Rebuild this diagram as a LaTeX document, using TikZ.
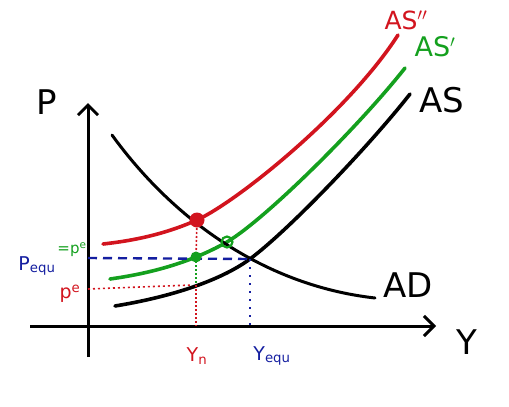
\documentclass[tikz,border=0pt]{standalone}
\usepackage{fontspec}
\setmainfont{DejaVu Sans}
\usetikzlibrary{arrows.meta}
\definecolor{cred}{RGB}{210,20,30}
\definecolor{cgreen}{RGB}{20,160,30}
\definecolor{cblue}{RGB}{20,30,160}
\begin{document}
\begin{tikzpicture}[x=1pt,y=-1pt,
  axis/.style={line width=3pt,-{Straight Barb[length=10pt,width=20pt]}},
  curve/.style={line width=3.6pt,line cap=round},
  lbl/.style={font=\fontsize{34}{34}\selectfont,inner sep=0pt},
  slbl/.style={font=\fontsize{19}{19}\selectfont,inner sep=0pt},
  guide/.style={line width=1.6pt}]
\useasboundingbox (0,0) rectangle (509,407);
% axes
\coordinate (o1) at (88,357);
\coordinate (o2) at (88,103);
\coordinate (h1) at (30,326);
\coordinate (h2) at (436,326);
\draw[axis] (o1) -- (o2);
\draw[axis] (h1) -- (h2);
% curves
\draw[curve,black] (115,306) .. controls (170,297) and (220,281) .. (250,259)
   .. controls (290,229) and (370,145) .. (410,94);
\draw[curve,cgreen] (110,279) .. controls (160,272) and (197,259) .. (227,242)
   .. controls (267,218) and (360,125) .. (405,68);
\draw[curve,cred] (103,244) .. controls (140,240) and (170,232) .. (197,220)
   .. controls (240,200) and (350,110) .. (398,35);
\draw[curve,black,line width=3pt] (112,135) .. controls (170,215) and (260,285) .. (375,298);
% guides
\coordinate (pe) at (88,258);
\coordinate (eq) at (250,259);
\coordinate (ye) at (250,326);
\coordinate (pr) at (88,289);
\coordinate (pr2) at (192,285);
\coordinate (rd) at (197,220);
\coordinate (gd) at (196,257);
\coordinate (gd2) at (196,285);
\coordinate (yn) at (196,326);
\draw[guide,cblue,line width=2.4pt,dash pattern=on 9pt off 6pt] (pe) -- (eq);
\draw[guide,cblue,line width=2.4pt,dash pattern=on 2pt off 6pt] (eq) -- (ye);
\draw[guide,cred,dash pattern=on 2pt off 3pt] (pr) -- (pr2);
\draw[guide,cred,dash pattern=on 2pt off 2pt] (rd) -- (gd);
\draw[guide,cgreen,dash pattern=on 2pt off 2pt] (gd) -- (gd2);
\draw[guide,cred,dash pattern=on 2pt off 2pt] (gd2) -- (yn);
% points
\node[circle,fill=cred,minimum size=15pt,inner sep=0pt] (rdot) at (rd) {};
\node[circle,fill=cgreen,minimum size=11pt,inner sep=0pt] (gdot) at (gd) {};
\node[circle,draw=cgreen,line width=2.2pt,minimum size=11pt,inner sep=0pt] (gcirc) at (227,242) {};
% labels
\node[lbl] (P) at (47,102) {P};
\node[lbl] (Y) at (467,342) {Y};
\node[lbl] (AD) at (408,285) {AD};
\node[lbl] (AS) at (442,100) {AS};
\node[lbl,cgreen,font=\fontsize{27}{27}\selectfont] (ASp) at (435,47) {AS$'$};
\node[lbl,cred,font=\fontsize{25}{25}\selectfont] (ASpp) at (406,20) {AS$''$};
\node[slbl,cred] (Yn) at (197,356) {Y$_\mathrm{n}$};
\node[slbl,cblue] (Ye) at (272,356) {Y$_{\mathrm{equ}}$};
\node[slbl,cblue] (Pe) at (37,266) {P$_{\mathrm{equ}}$};
\node[slbl,cgreen,font=\fontsize{15}{15}\selectfont] (pe1) at (72,250) {=p$^\mathrm{e}$};
\node[slbl,cred] (pe2) at (70,294) {p$^\mathrm{e}$};
\end{tikzpicture}
\end{document}
